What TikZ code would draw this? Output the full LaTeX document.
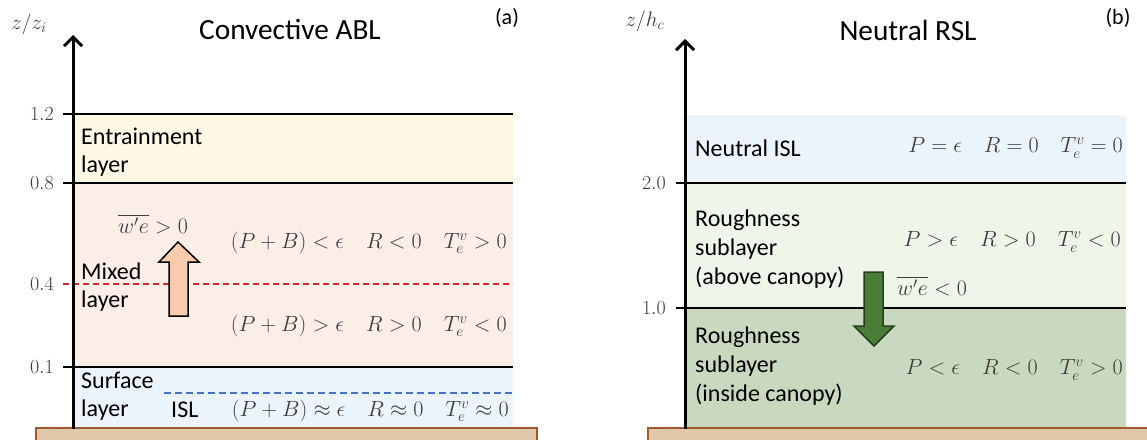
\RequirePackage{fix-cm}
\documentclass[tikz,border=0pt]{standalone}
\usepackage{amsmath}
\usepackage{fontspec}
\setmainfont{Carlito}
\usepackage{tikz}
\usetikzlibrary{positioning, arrows.meta}

\definecolor{entrfill}{RGB}{253,247,228}
\definecolor{mixfill}{RGB}{251,238,230}
\definecolor{surffill}{RGB}{235,243,251}
\definecolor{abovefill}{RGB}{238,245,233}
\definecolor{insidefill}{RGB}{201,217,192}
\definecolor{upfill}{RGB}{248,203,173}
\definecolor{downfill}{RGB}{74,126,56}
\definecolor{downedge}{RGB}{38,62,28}
\definecolor{groundfill}{RGB}{224,200,170}
\definecolor{groundedge}{RGB}{160,88,44}
\definecolor{reddash}{RGB}{214,40,40}
\definecolor{bluedash}{RGB}{68,114,196}
\definecolor{eqgray}{RGB}{60,60,60}

\tikzset{
  layerline/.style={line width=1.5pt},
  zaxis/.style={line width=3pt, -{Straight Barb[length=9pt,width=18pt,line width=3pt]}},
  laytext/.style={font=\fontsize{24}{28}\selectfont, align=left, anchor=west, inner sep=0pt},
  eqtext/.style={font=\fontsize{22}{26}\selectfont, text=eqgray, inner sep=0pt},
  ticktext/.style={font=\fontsize{20}{24}\selectfont, text=eqgray, anchor=east, inner sep=0pt},
  titletext/.style={font=\fontsize{29.3}{34}\selectfont, anchor=base, inner sep=0pt},
  paneltext/.style={font=\fontsize{22}{26}\selectfont, anchor=base, inner sep=0pt},
  ground/.style={fill=groundfill, draw=groundedge, line width=2pt},
  fluxarrow/.style={line width=1.5pt, line join=miter},
}

\begin{document}
\begin{tikzpicture}[x=1pt, y=-1pt]
  \useasboundingbox (0,0) rectangle (1147,439);

  % ---------------- (a) Convective ABL ----------------
  \fill[entrfill] (73,114) rectangle (513,183);
  \fill[mixfill] (73,183) rectangle (513,367);
  \fill[surffill] (73,367) rectangle (513,428);

  \foreach \yy in {114, 183, 367} {
    \draw[layerline] (63,\yy) -- (513,\yy);
  }
  \draw[layerline, reddash, dash pattern=on 6pt off 4pt] (63,284) -- (513,284);
  \draw[layerline, bluedash, dash pattern=on 7pt off 4pt] (164,393) -- (513,393);

  \foreach \yy/\lab in {114/1.2, 183/0.8, 284/0.4, 367/0.1} {
    \node[ticktext] (ta-\lab) at (54,\yy) {$\lab$};
  }

  \draw[ground] (36,428) rectangle (537,446);
  \draw[zaxis] (73,429) -- (73,35);

  \node[eqtext, font=\fontsize{21}{25}\selectfont] (zza) at (29,24) {$z/z_i$};
  \node[titletext] (titlea) at (290,39) {Convective ABL};
  \node[paneltext] (pa) at (507,24) {(a)};

  \node[laytext] (entr) at (81,152) {Entrainment\\layer};
  \node[laytext] (mixed) at (81,287) {Mixed\\layer};
  \node[laytext] (surf) at (81,396) {Surface\\layer};
  \node[laytext, anchor=base west] (isl) at (171,417) {ISL};

  % upward flux arrow
  \draw[fluxarrow, fill=upfill] (169,316) -- (188,316) -- (188,262) -- (199,262)
    -- (178,242) -- (159,262) -- (169,262) -- cycle;
  \node[eqtext, anchor=base west] (fluxa) at (118,233) {$\overline{w'e} > 0$};

  \node[eqtext, anchor=east] (mixtop) at (507,243)
    {$(P+B) < \epsilon \quad R < 0 \quad T_e^v > 0$};
  \node[eqtext, anchor=east] (mixbot) at (507,326)
    {$(P+B) > \epsilon \quad R > 0 \quad T_e^v < 0$};
  \node[eqtext, anchor=east] (surfeq) at (509,411)
    {$(P+B) \approx \epsilon \quad R \approx 0 \quad T_e^v \approx 0$};

  % ---------------- (b) Neutral RSL ----------------
  \fill[surffill] (685,115) rectangle (1126,183);
  \fill[abovefill] (685,183) rectangle (1126,308);
  \fill[insidefill] (685,308) rectangle (1126,428);

  \draw[layerline] (676,183) -- (1126,183);
  \draw[line width=1.2pt] (676,308) -- (1126,308);

  \foreach \yy/\lab in {183/2.0, 308/1.0} {
    \node[ticktext] (tb-\lab) at (666,\yy) {$\lab$};
  }

  \draw[ground] (648,428) rectangle (1160,446);
  \draw[zaxis] (685,429) -- (685,39);

  \node[eqtext, font=\fontsize{21}{25}\selectfont] (zhc) at (645,21) {$z/h_c$};
  \node[titletext] (titleb) at (908,40) {Neutral RSL};
  \node[paneltext] (pb) at (1118,24) {(b)};

  \node[laytext, anchor=base west] (nisl) at (695,156) {Neutral ISL};
  \node[laytext, font=\fontsize{24}{29}\selectfont] (rsabove) at (695,249)
    {Roughness\\sublayer\\(above canopy)};
  \node[laytext, font=\fontsize{24}{29}\selectfont] (rsinside) at (695,366)
    {Roughness\\sublayer\\(inside canopy)};

  % downward flux arrow
  \draw[fluxarrow, draw=downedge, fill=downfill] (864,272) -- (883,272) -- (883,326)
    -- (894,326) -- (874,346) -- (854,326) -- (864,326) -- cycle;
  \node[eqtext, anchor=base west] (fluxb) at (897,295) {$\overline{w'e} < 0$};

  \node[eqtext, anchor=east] (nisleq) at (1123,148)
    {$P = \epsilon \quad R = 0 \quad T_e^v = 0$};
  \node[eqtext, anchor=east] (aboveeq) at (1121,242)
    {$P > \epsilon \quad R > 0 \quad T_e^v < 0$};
  \node[eqtext, anchor=east] (insideeq) at (1123,370)
    {$P < \epsilon \quad R < 0 \quad T_e^v > 0$};
\end{tikzpicture}
\end{document}
